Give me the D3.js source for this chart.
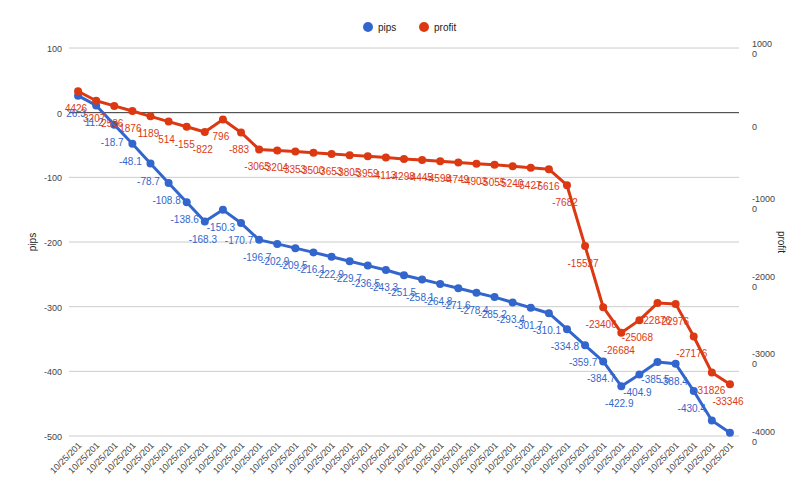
<!DOCTYPE html>
<html><head><meta charset="utf-8">
<script src="https://cdn.jsdelivr.net/npm/d3@7"></script>
<style>body{margin:0;background:#fff;font-family:Arial,"Liberation Sans",sans-serif}</style>
</head><body><svg id="chart" width="800" height="494"></svg>
<script>
// Data
const pips = [26.3, 11.2, -18.7, -48.1, -78.7, -108.8, -138.6, -168.3, -150.3, -170.7,
  -196.7, -202.9, -209.5, -216.1, -222.9, -229.7, -236.5, -243.3, -251.5, -258.1,
  -264.8, -271.6, -278.4, -285.2, -293.4, -301.7, -310.1, -334.8, -359.7, -384.7,
  -422.9, -404.9, -385.5, -388.4, -430.4, -476, -495];
const profit = [4426, 3207, 2536, 1876, 1189, 514, -155, -822, 796, -883,
  -3065, -3204, -3353, -3500, -3653, -3805, -3959, -4113, -4298, -4445,
  -4598, -4749, -4903, -5055, -5240, -5427, -5616, -7682, -15527, -23406,
  -26684, -25068, -22876, -22976, -27176, -31826, -33346];
const categories = pips.map(() => '10/25/201');
const leftTicks = [100, 0, -100, -200, -300, -400, -500];
const rightTicks = [10000, 0, -10000, -20000, -30000, -40000];

const svg = d3.select('#chart');
const pLeft = 69, pRight = 739, pTop = 48, pBottom = 436;
const blue = '#3366cc', red = '#dc3912';

const x = d3.scalePoint().domain(d3.range(pips.length)).range([pLeft, pRight]).padding(0.5);
const yL = d3.scaleLinear().domain([-500, 100]).range([pBottom, pTop]);
const yR = d3.scaleLinear().domain([-40000, 10000]).range([pBottom, pTop]);

// gridlines
svg.append('g').selectAll('line').data(leftTicks).join('line')
  .attr('x1', pLeft).attr('x2', pRight)
  .attr('y1', d => yL(d)).attr('y2', d => yL(d))
  .attr('stroke', d => d === 0 ? '#333' : '#ccc').attr('stroke-width', 1);

// left tick labels
svg.append('g').selectAll('text').data(leftTicks).join('text')
  .attr('x', pLeft - 7).attr('y', d => yL(d) + 4).attr('text-anchor', 'end')
  .attr('font-size', 9).attr('fill', '#444').text(d => d);

// right tick labels (wrapped like the original)
const rt = svg.append('g').selectAll('text').data(rightTicks).join('text')
  .attr('x', pRight + 13).attr('font-size', 9).attr('fill', '#444');
rt.each(function(d) {
  const s = String(d);
  const t = d3.select(this);
  if (s.length > 4) {
    t.append('tspan').attr('x', pRight + 13).attr('y', yR(d) - 1).text(s.slice(0, s.length - 1));
    t.append('tspan').attr('x', pRight + 13).attr('y', yR(d) + 9).text(s.slice(-1));
  } else {
    t.attr('y', yR(d) + 4).text(s);
  }
});

// axis titles
svg.append('text').attr('transform', `translate(36,${(pTop + pBottom) / 2}) rotate(-90)`)
  .attr('text-anchor', 'middle').attr('font-size', 10).attr('fill', '#222').text('pips');
svg.append('text').attr('transform', `translate(778,${(pTop + pBottom) / 2}) rotate(90)`)
  .attr('text-anchor', 'middle').attr('font-size', 10).attr('fill', '#222').text('profit');

// x labels
svg.append('g').selectAll('text').data(categories).join('text')
  .attr('transform', (d, i) => `translate(${x(i) + 4},${pBottom + 10}) rotate(-45)`)
  .attr('text-anchor', 'end').attr('font-size', 9).attr('fill', '#444').text(d => d);

// series
function drawSeries(vals, y, color) {
  const g = svg.append('g');
  g.append('path').datum(vals)
    .attr('d', d3.line().x((d, i) => x(i)).y(d => y(d)))
    .attr('fill', 'none').attr('stroke', color).attr('stroke-width', 3).attr('stroke-linejoin', 'round');
  g.selectAll('circle').data(vals).join('circle')
    .attr('cx', (d, i) => x(i)).attr('cy', d => y(d)).attr('r', 4).attr('fill', color);
  return g;
}
drawSeries(pips, yL, blue);
drawSeries(profit, yR, red);

// annotations
function labels(vals, y, color, skip) {
  svg.append('g').selectAll('text').data(vals.map((v, i) => [v, i]).filter(d => !skip.includes(d[1]))).join('text')
    .attr('x', d => x(d[1]) - 2).attr('y', d => y(d[0]) + 21)
    .attr('text-anchor', 'middle').attr('font-size', 10).attr('fill', color)
    .text(d => d[0]);
}
labels(pips, yL, blue, [35, 36]);
labels(profit, yR, red, []);

// legend
const legend = [['pips', blue, 368], ['profit', red, 424]];
const lg = svg.append('g').selectAll('g').data(legend).join('g')
  .attr('transform', d => `translate(${d[2]},27)`);
lg.append('circle').attr('r', 5).attr('fill', d => d[1]);
lg.append('text').attr('x', 10).attr('y', 4).attr('font-size', 10).attr('fill', '#222').text(d => d[0]);
</script></body></html>
